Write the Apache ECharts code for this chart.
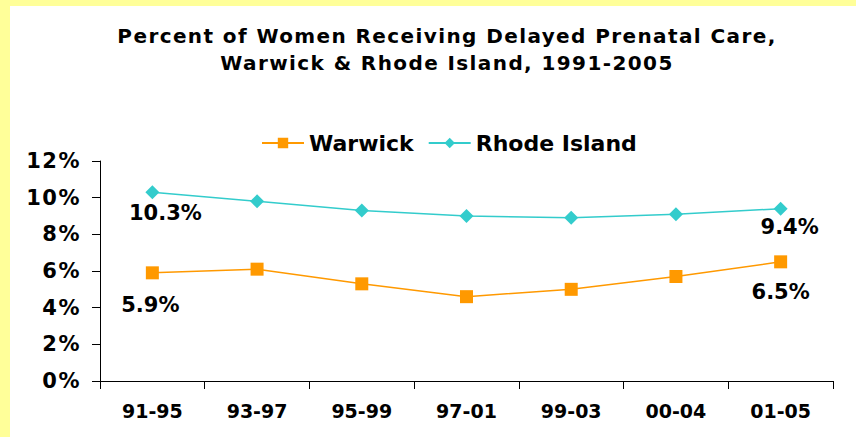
<!DOCTYPE html>
<html>
<head>
<meta charset="utf-8">
<script src="https://cdn.jsdelivr.net/npm/echarts@6/dist/echarts.min.js"></script>
<style>
    html, body {
        margin: 0;
        padding: 0;
        background: #ffff99;
    }
    #chart {
        position: absolute;
        left: 10px;
        top: 6px;
        width: 846px;
        height: 431px;
        background: #ffffff;
    }
</style>
</head>
<body>
<div id="chart"></div>
<script>
// 数据
var periods = ['91-95', '93-97', '95-99', '97-01', '99-03', '00-04', '01-05'];
var warwick = [5.9, 6.1, 5.3, 4.6, 5.0, 5.7, 6.5];
var rhodeIsland = [10.3, 9.8, 9.3, 9.0, 8.9, 9.1, 9.4];
var yTicks = [0, 2, 4, 6, 8, 10, 12];

var FONT = 'DejaVu Sans, Liberation Sans, Arial, sans-serif';
var chart = echarts.init(document.getElementById('chart'), null, { renderer: 'svg' });

// 只在首尾两个点显示数值
function endLabels(values, offsets) {
    return values.map(function (v, i) {
        var item = { value: v };
        if (i === 0) {
            item.label = { show: true, offset: offsets[0] };
        } else if (i === values.length - 1) {
            item.label = { show: true, offset: offsets[1] };
        }
        return item;
    });
}

var labelStyle = {
    show: false,
    position: 'inside',
    color: '#000',
    fontWeight: 'bold',
    fontSize: 21,
    fontFamily: FONT,
    formatter: function (p) { return p.value.toFixed(1) + '%'; }
};

var option = {
    animation: false,
    textStyle: { fontFamily: FONT },
    title: {
        text: 'Percent of Women Receiving Delayed Prenatal Care,\nWarwick & Rhode Island, 1991-2005',
        left: 432,
        top: 11,
        textAlign: 'center',
        textStyle: {
            fontSize: 20,
            fontWeight: 'bold',
            fontFamily: FONT,
            color: '#000',
            lineHeight: 27
        }
    },
    legend: {
        top: 121,
        left: 246,
        itemWidth: 42,
        itemHeight: 13,
        itemGap: 14,
        textStyle: { fontSize: 22, fontWeight: 'bold', color: '#000', fontFamily: FONT },
        data: ['Warwick', 'Rhode Island']
    },
    grid: {
        left: 90,
        right: 23,
        top: 155,
        bottom: 56
    },
    xAxis: {
        type: 'category',
        data: periods,
        boundaryGap: true,
        axisLine: { lineStyle: { color: '#000', width: 1 } },
        axisTick: { show: true, length: 8, lineStyle: { color: '#000' } },
        axisLabel: {
            margin: 20,
            fontSize: 19,
            fontWeight: 'bold',
            fontFamily: FONT,
            color: '#000'
        }
    },
    yAxis: {
        type: 'value',
        min: yTicks[0],
        max: yTicks[yTicks.length - 1],
        interval: 2,
        axisLine: { show: true, lineStyle: { color: '#000', width: 1 } },
        axisTick: { show: true, length: 8, lineStyle: { color: '#000' } },
        splitLine: { show: false },
        axisLabel: {
            margin: 19,
            fontSize: 21,
            fontWeight: 'bold',
            fontFamily: FONT,
            color: '#000',
            formatter: '{value}%'
        }
    },
    series: [
        {
            name: 'Warwick',
            type: 'line',
            data: endLabels(warwick, [[-2, 32], [0, 30]]),
            symbol: 'rect',
            symbolSize: 13,
            color: '#ff9900',
            lineStyle: { width: 1.5, color: '#ff9900' },
            label: labelStyle
        },
        {
            name: 'Rhode Island',
            type: 'line',
            data: endLabels(rhodeIsland, [[13, 21], [9, 18]]),
            symbol: 'diamond',
            symbolSize: 14,
            color: '#33cccc',
            lineStyle: { width: 1.5, color: '#33cccc' },
            label: labelStyle
        }
    ]
};

chart.setOption(option);

// 原图文字偏宽，给标题和y轴刻度加一点字距
function widenText() {
    var texts = document.querySelectorAll('#chart svg text');
    texts.forEach(function (t) {
        var s = t.textContent.trim();
        if (s.indexOf('Percent') === 0 || s.indexOf('Warwick &') === 0) {
            t.style.letterSpacing = '1.4px';
        } else if (/^\d+%$/.test(s)) {
            t.style.letterSpacing = '1.5px';
        }
    });
}
widenText();
chart.on('finished', widenText);
</script>
</body>
</html>
